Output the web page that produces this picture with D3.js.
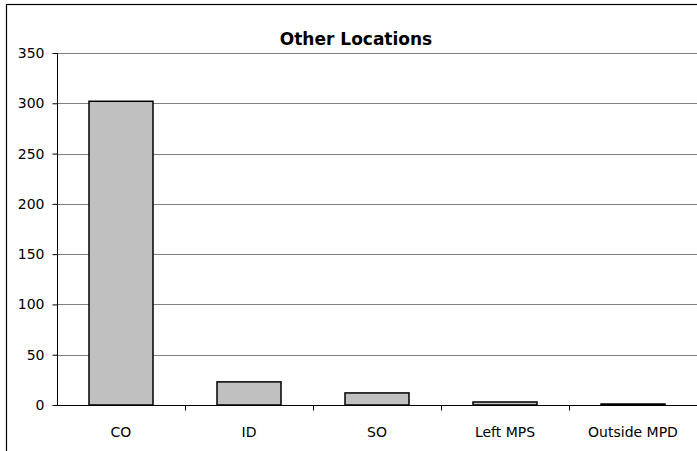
<!DOCTYPE html>
<html><head><meta charset="utf-8">
<script src="https://cdn.jsdelivr.net/npm/d3@7"></script>
<style>body{margin:0;background:#fff}svg{display:block}text{font-family:"DejaVu Sans",Verdana,sans-serif}</style>
</head><body>
<script>
const categories = ["CO", "ID", "SO", "Left MPS", "Outside MPD"];
const values = [302, 23, 12, 3, 1];
const yTicks = [0, 50, 100, 150, 200, 250, 300, 350];
const title = "Other Locations";

const W = 697, H = 451;
const svg = d3.select("body").append("svg").attr("width", W).attr("height", H);
svg.append("rect").attr("x", 6.5).attr("y", 4.5).attr("width", 720).attr("height", 480)
  .attr("fill", "#fff").attr("stroke", "#000").attr("stroke-width", 1.2);

const x = d3.scaleBand().domain(categories).range([57, 697]).paddingInner(0.5).paddingOuter(0.25);
const y = d3.scaleLinear().domain([0, 350]).range([405, 53]);

// gridlines
svg.append("g").selectAll("line").data(yTicks.filter(d => d > 0)).join("line")
  .attr("x1", 57).attr("x2", 697).attr("y1", d => Math.round(y(d)) + 0.5).attr("y2", d => Math.round(y(d)) + 0.5)
  .attr("stroke", "#808080").attr("stroke-width", 1);

// bars
svg.append("g").selectAll("rect").data(values).join("rect")
  .attr("x", (d, i) => x(categories[i]))
  .attr("width", x.bandwidth())
  .attr("y", d => y(d))
  .attr("height", d => y(0) - y(d))
  .attr("fill", "#c0c0c0").attr("stroke", "#000").attr("stroke-width", 1.5);

// y axis
const yAxis = d3.axisLeft(y).tickValues(yTicks).tickSize(5).tickPadding(8);
const gy = svg.append("g").attr("transform", "translate(57.5,0)").call(yAxis);
gy.select(".domain").attr("d", "M0," + y(350) + "V" + y(0));
gy.selectAll("text").attr("font-size", 14).attr("fill", "#000").attr("font-family", "DejaVu Sans").attr("x", -13);

// x axis
const xPos = d3.scaleLinear().domain([0, 5]).range([57, 697]);
const gx = svg.append("g").attr("transform", "translate(0," + (Math.round(y(0)) + 0.5) + ")");
gx.append("line").attr("x1", 57).attr("x2", 697).attr("stroke", "#000");
gx.selectAll("line.t").data(d3.range(1, 6)).join("line").attr("class", "t")
  .attr("x1", d => Math.round(xPos(d)) + 0.5).attr("x2", d => Math.round(xPos(d)) + 0.5)
  .attr("y1", 0).attr("y2", 5).attr("stroke", "#000");
gx.selectAll("text").data(categories).join("text")
  .attr("x", d => x(d) + x.bandwidth() / 2).attr("y", 31)
  .attr("text-anchor", "middle").attr("font-size", 14).text(d => d);

svg.append("text").attr("x", 356).attr("y", 45).attr("text-anchor", "middle")
  .attr("font-size", 17).attr("font-weight", "bold").text(title);
</script>
</body></html>
